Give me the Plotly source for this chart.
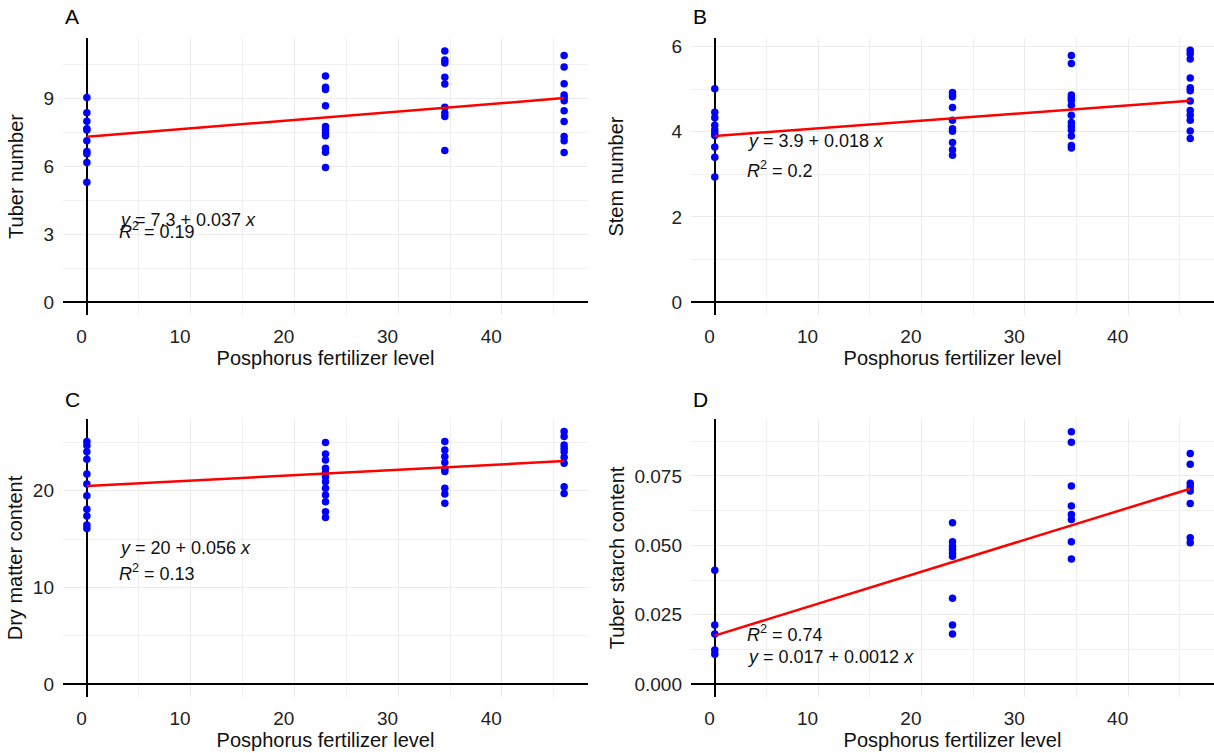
import plotly.graph_objects as go

# ---------------- data ----------------
levels = [0, 23, 34.5, 46]          # phosphorus fertilizer levels
x_ticks = [0, 10, 20, 30, 40]

# A  Tuber number (one list per fertilizer level)
tuber_number = [
    [9.03, 8.36, 7.98, 7.65, 7.60, 7.12, 6.65, 6.55, 6.16, 5.29],
    [9.98, 9.48, 9.38, 8.66, 7.75, 7.60, 7.45, 7.34, 6.79, 6.62, 5.94],
    [11.08, 10.68, 10.55, 9.92, 9.62, 8.60, 8.35, 8.19, 6.69],
    [10.88, 10.37, 9.63, 9.14, 9.01, 8.89, 8.44, 7.97, 7.31, 7.12, 6.60],
]
# B  Stem number
stem_number = [
    [5.01, 4.46, 4.33, 4.15, 4.04, 3.96, 3.91, 3.64, 3.40, 2.94],
    [4.92, 4.86, 4.82, 4.57, 4.27, 4.07, 4.01, 3.75, 3.58, 3.45],
    [5.79, 5.60, 4.86, 4.80, 4.74, 4.62, 4.39, 4.22, 4.13, 4.04, 3.90, 3.68, 3.62],
    [5.91, 5.83, 5.71, 5.26, 5.03, 4.96, 4.72, 4.50, 4.39, 4.27, 4.02, 3.84],
]
# C  Dry matter content
dry_matter = [
    [25.07, 24.66, 24.03, 23.24, 21.72, 20.69, 19.48, 18.07, 17.38, 16.45, 16.10],
    [24.97, 23.79, 23.17, 22.31, 21.86, 21.45, 20.93, 20.24, 19.55, 18.86, 17.83, 17.24],
    [25.07, 24.21, 23.52, 22.90, 22.20, 21.97, 20.24, 19.66, 18.69],
    [26.10, 25.60, 24.72, 24.38, 24.03, 23.45, 22.83, 20.41, 19.72],
]
# D  Tuber starch content
starch = [
    [0.0410, 0.0213, 0.0181, 0.0123, 0.0108],
    [0.0581, 0.0513, 0.0497, 0.0485, 0.0472, 0.0461, 0.0310, 0.0213, 0.0181],
    [0.0909, 0.0871, 0.0714, 0.0642, 0.0611, 0.0593, 0.0513, 0.0451],
    [0.0831, 0.0792, 0.0724, 0.0710, 0.0696, 0.0651, 0.0527, 0.0509],
]

# fitted lines (intercept, slope) as drawn in the reference
fit_A = (7.30, 0.037)
fit_B = (3.90, 0.018)
fit_C = (20.48, 0.056)
fit_D = (0.0175, 0.00115)

eq_A = ["<i>y</i> = 7.3 + 0.037 <i>x</i>", "<i>R</i><sup>2</sup> = 0.19"]
eq_B = ["<i>y</i> = 3.9 + 0.018 <i>x</i>", "<i>R</i><sup>2</sup> = 0.2"]
eq_C = ["<i>y</i> = 20 + 0.056 <i>x</i>", "<i>R</i><sup>2</sup> = 0.13"]
eq_D = ["<i>R</i><sup>2</sup> = 0.74", "<i>y</i> = 0.017 + 0.0012 <i>x</i>"]

titles = ["A", "B", "C", "D"]
y_titles = ["Tuber number", "Stem number", "Dry matter content", "Tuber starch content"]
x_title = "Posphorus fertilizer level"

# ---------------- layout parameters ----------------
W, H = 1214, 753
FONT = "Liberation Sans, Arial, sans-serif"
col_dom = [[63 / W, 588 / W], [691 / W, 1.0]]
row_dom = [[(H - 315) / H, (H - 38) / H], [(H - 697) / H, (H - 419) / H]]

panels = [
    dict(vals=tuber_number, fit=fit_A, eq=eq_A, eq_x=2.9, eq_y=[3.62, 3.16],
         yr=[-0.555, 11.65], dt=3, mdt=1.5, fmt=None, col=0, row=0, ystand=14),
    dict(vals=stem_number, fit=fit_B, eq=eq_B, eq_x=2.9, eq_y=[3.78, 3.11],
         yr=[-0.3, 6.2], dt=2, mdt=1, fmt=None, col=1, row=0, ystand=42),
    dict(vals=dry_matter, fit=fit_C, eq=eq_C, eq_x=2.9, eq_y=[14.04, 11.52],
         yr=[-1.3, 27.4], dt=10, mdt=5, fmt=None, col=0, row=1, ystand=4),
    dict(vals=starch, fit=fit_D, eq=eq_D, eq_x=2.9, eq_y=[0.01834, 0.00988],
         yr=[-0.0046, 0.0955], dt=0.025, mdt=0.0125, fmt=".3f", col=1, row=1, ystand=4),
]

fig = go.Figure()
annotations = []
layout = {}

for i, p in enumerate(panels):
    n = "" if i == 0 else str(i + 1)
    xs, ys = [], []
    for lv, grp in zip(levels, p["vals"]):
        xs += [lv] * len(grp)
        ys += grp
    fig.add_trace(go.Scatter(
        x=xs, y=ys, mode="markers", xaxis="x" + n, yaxis="y" + n,
        marker=dict(color="#0000ff", size=7.5, line=dict(width=0)),
        showlegend=False, hoverinfo="x+y"))
    a, b = p["fit"]
    lx = [min(levels), max(levels)]
    fig.add_trace(go.Scatter(
        x=lx, y=[a + b * v for v in lx], mode="lines", xaxis="x" + n, yaxis="y" + n,
        line=dict(color="#ff0000", width=2.5), showlegend=False))

    grid = "#ebebeb"
    layout["xaxis" + n] = dict(
        domain=col_dom[p["col"]], anchor="y" + n, range=[-2.3, 48.3],
        tickvals=x_ticks, ticks="", showgrid=True, gridcolor=grid, gridwidth=1.2,
        minor=dict(dtick=5, tick0=0, showgrid=True, gridcolor="#f0f0f0", gridwidth=1),
        zeroline=True, zerolinecolor="black", zerolinewidth=1.6,
        showline=False, ticklabelposition="outside left", ticklabelstandoff=8,
        tickfont=dict(family=FONT, size=19, color="#222222"),
        title=dict(text=x_title, font=dict(family=FONT, size=20, color="#111111"), standoff=4),
        automargin=False, fixedrange=True)
    layout["yaxis" + n] = dict(
        domain=row_dom[p["row"]], anchor="x" + n, range=p["yr"],
        tick0=0, dtick=p["dt"], ticks="", showgrid=True, gridcolor=grid, gridwidth=1.2,
        minor=dict(dtick=p["mdt"], tick0=0, showgrid=True, gridcolor="#f0f0f0", gridwidth=1),
        zeroline=True, zerolinecolor="black", zerolinewidth=1.6,
        showline=False, tickformat=p["fmt"] or "", ticklabelstandoff=8,
        tickfont=dict(family=FONT, size=19, color="#222222"),
        title=dict(text=y_titles[i], font=dict(family=FONT, size=20, color="#111111"),
                   standoff=p["ystand"]),
        automargin=False, fixedrange=True)

    for k, txt in enumerate(p["eq"]):
        annotations.append(dict(
            x=p["eq_x"], y=p["eq_y"][k], xref="x" + n, yref="y" + n,
            text=txt, showarrow=False, xanchor="left", yanchor="middle",
            font=dict(family=FONT, size=18, color="#111111")))

    px_left = col_dom[p["col"]][0]
    ty = (H - 17) / H if p["row"] == 0 else (H - 399) / H
    annotations.append(dict(
        x=px_left, y=ty, xref="paper", yref="paper", text=titles[i],
        showarrow=False, xanchor="left", yanchor="middle",
        font=dict(family=FONT, size=21, color="black")))

fig.update_layout(
    width=W, height=H, margin=dict(l=0, r=0, t=0, b=0),
    paper_bgcolor="white", plot_bgcolor="white",
    font=dict(family=FONT), annotations=annotations, **layout)

fig.write_html("out.html")
